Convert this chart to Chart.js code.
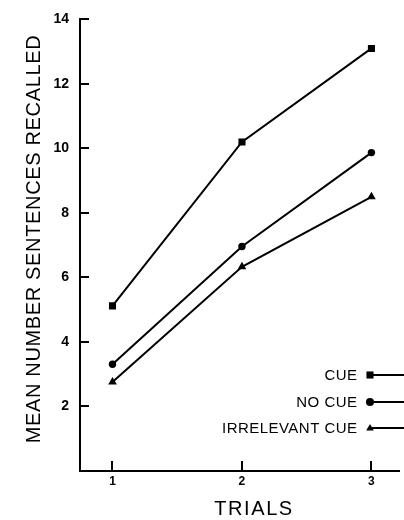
<!DOCTYPE html>
<html>
<head>
<meta charset="utf-8">
<script src="https://cdn.jsdelivr.net/npm/chart.js@4"></script>
<style>
  html, body { margin: 0; padding: 0; background: #fff; }
  canvas { display: block; }
</style>
</head>
<body>
<canvas id="recallChart" width="404" height="520"></canvas>
<script>
// data
const trials = [1, 2, 3];
const cueValues = [5.12, 10.2, 13.1];
const noCueValues = [3.31, 6.96, 9.87];
const irrelevantValues = [2.76, 6.33, 8.5];
const yTickValues = [2, 4, 6, 8, 10, 12, 14];
const seriesNames = ['CUE', 'NO CUE', 'IRRELEVANT CUE'];
const markerStyles = ['rect', 'circle', 'triangle'];

const INK = '#000';
const FONT = '"Liberation Sans", Arial, sans-serif';

// letter spacing that stretches text to a given width
function fitText(ctx, text, size, weight, width) {
    ctx.font = weight + ' ' + size + 'px ' + FONT;
    ctx.letterSpacing = '0px';
    const w = ctx.measureText(text).width;
    const sp = (width - w) / Math.max(text.length - 1, 1);
    ctx.letterSpacing = sp + 'px';
    return sp;
}

function drawMarker(ctx, style, x, y, r) {
    ctx.beginPath();
    if (style === 'rect') {
        const s = r * Math.SQRT1_2;
        ctx.rect(x - s, y - s, 2 * s, 2 * s);
    } else if (style === 'circle') {
        ctx.arc(x, y, r, 0, Math.PI * 2);
    } else {
        ctx.moveTo(x, y - r);
        ctx.lineTo(x + r * 0.95, y + r * 0.6);
        ctx.lineTo(x - r * 0.95, y + r * 0.6);
        ctx.closePath();
    }
    ctx.fill();
}

const extras = {
    id: 'extras',
    afterDraw(chart) {
        const ctx = chart.ctx;
        const xs = chart.scales.x;
        const ys = chart.scales.y;
        const area = chart.chartArea;
        ctx.save();
        ctx.strokeStyle = INK;
        ctx.fillStyle = INK;
        ctx.lineWidth = 2;

        // tick marks point inwards on this figure
        yTickValues.forEach(v => {
            const py = Math.round(ys.getPixelForValue(v));
            ctx.fillRect(area.left - 1, py - 1, 10, 2);
        });
        trials.forEach(t => {
            const px = Math.round(xs.getPixelForValue(t));
            ctx.fillRect(px - 1, area.bottom - 10, 2, 11);
        });

        // axis titles
        ctx.textAlign = 'center';
        ctx.textBaseline = 'middle';
        fitText(ctx, 'TRIALS', 20, 'normal', 78);
        ctx.fillText('TRIALS', 254, 509);

        ctx.save();
        ctx.translate(34, 239);
        ctx.rotate(-Math.PI / 2);
        fitText(ctx, 'MEAN NUMBER SENTENCES RECALLED', 20, 'normal', 408);
        ctx.fillText('MEAN NUMBER SENTENCES RECALLED', 0, 0);
        ctx.restore();

        // legend
        const legendY = [375, 402, 428];
        ctx.textAlign = 'right';
        const sp = fitText(ctx, 'IRRELEVANT CUE', 15, 'normal', 135);
        seriesNames.forEach((name, i) => {
            ctx.font = 'normal 15px ' + FONT;
            ctx.letterSpacing = sp + 'px';
            ctx.fillText(name, 357 + sp, legendY[i] + 1);
            ctx.letterSpacing = '0px';
            ctx.fillRect(370, legendY[i] - 1, 34, 2);
            drawMarker(ctx, markerStyles[i], 370, legendY[i], i === 0 ? 5 : 4);
        });
        ctx.restore();
    }
};

function series(label, values, style, radius) {
    return {
        label: label,
        data: trials.map((t, i) => ({ x: t, y: values[i] })),
        borderColor: INK,
        backgroundColor: INK,
        borderWidth: 2,
        pointStyle: style,
        pointRadius: radius,
        pointBorderWidth: 0,
        pointBackgroundColor: INK,
        tension: 0
    };
}

new Chart(document.getElementById('recallChart').getContext('2d'), {
    type: 'line',
    data: {
        datasets: [
            series(seriesNames[0], cueValues, 'rect', 5),
            series(seriesNames[1], noCueValues, 'circle', 3.7),
            series(seriesNames[2], irrelevantValues, 'triangle', 5)
        ]
    },
    options: {
        responsive: false,
        animation: false,
        layout: { padding: { top: 13, right: 0, left: 0, bottom: 0 } },
        plugins: {
            legend: { display: false },
            tooltip: { enabled: false }
        },
        scales: {
            x: {
                type: 'linear',
                min: 0.749,
                max: 3.213,
                afterBuildTicks: scale => {
                    scale.ticks = trials.map(v => ({ value: v }));
                },
                afterFit: scale => { scale.height = 49; },
                grid: { display: false, drawTicks: false },
                border: { display: true, color: INK, width: 2 },
                ticks: {
                    color: INK,
                    padding: 3,
                    font: { family: FONT, size: 12, weight: 'bold' },
                    callback: v => String(v)
                }
            },
            y: {
                min: 0,
                max: 14,
                afterBuildTicks: scale => {
                    scale.ticks = yTickValues.map(v => ({ value: v }));
                },
                afterFit: scale => { scale.width = 80; },
                grid: { display: false, drawTicks: false },
                border: { display: true, color: INK, width: 2 },
                ticks: {
                    color: INK,
                    padding: 11,
                    font: { family: FONT, size: 14, weight: 'bold' },
                    callback: v => String(v)
                }
            }
        }
    },
    plugins: [extras]
});
</script>
</body>
</html>
